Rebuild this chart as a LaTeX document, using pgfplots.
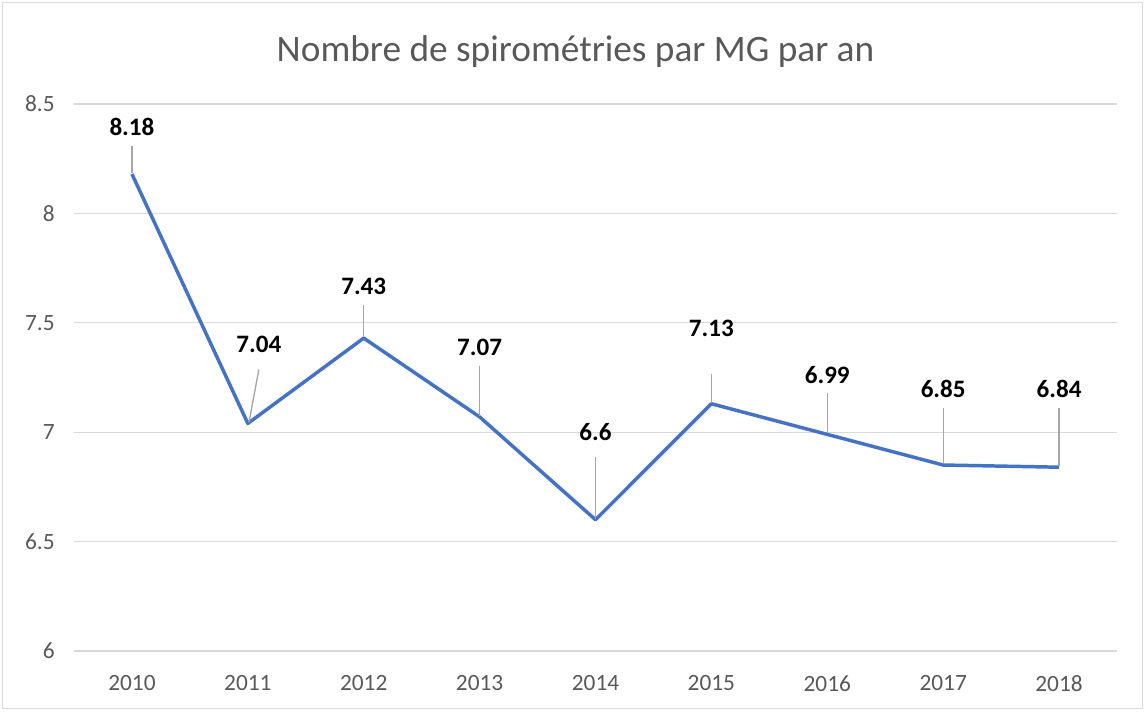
\documentclass[border=0pt]{standalone}
\usepackage{pgfplots}
\pgfplotsset{compat=1.18}
\usepackage{fontspec}
\setmainfont{Carlito}
\definecolor{lineblue}{HTML}{4472C4}
\definecolor{gridgray}{HTML}{D9D9D9}
\definecolor{txtgray}{HTML}{595959}
\definecolor{leadgray}{HTML}{A6A6A6}
\definecolor{framegray}{HTML}{D9D9D9}
\begin{document}
\begin{tikzpicture}[x=1pt,y=1pt]
\fill[white] (0,0) rectangle (858.75,533.25);
\draw[framegray, line width=1.2pt] (2,2) rectangle (856.75,531.25);
\begin{axis}[
  at={(55.5pt,45pt)}, anchor=south west,
  scale only axis,
  width=782.25pt, height=410.25pt,
  xmin=-0.5, xmax=8.5,
  ymin=6, ymax=8.5,
  axis line style={draw=none},
  xtick={0,...,8},
  xticklabels={2010,2011,2012,2013,2014,2015,2016,2017,2018},
  ytick={6,6.5,7,7.5,8,8.5},
  yticklabels={6,6.5,7,7.5,8,8.5},
  major tick length=0pt,
  ymajorgrids=true,
  grid style={gridgray, line width=0.8pt},
  tick label style={font=\fontsize{17.5}{20}\selectfont, text=txtgray},
  xticklabel style={yshift=-15pt},
  yticklabel style={xshift=-11pt},
  /pgf/number format/assume math mode=true,
  clip=false,
  title={\fontsize{28}{33}\selectfont Nombre de spirométries par MG par an},
  title style={text=txtgray, at={(0.5,1)}, anchor=center, yshift=33pt, xshift=-15pt},
]
\addplot[lineblue, line width=2.6pt, mark=none, line join=round] coordinates {
(0,8.18) (1,7.04) (2,7.43) (3,7.07) (4,6.6) (5,7.13) (6,6.99) (7,6.85) (8,6.84)
};
% leader lines
\draw[leadgray, line width=1pt] (axis cs:0,8.308) -- (axis cs:0,8.185);
\draw[leadgray, line width=1pt] (axis cs:1.095,7.287) -- (axis cs:1.01,7.045);
\draw[leadgray, line width=1pt] (axis cs:2,7.581) -- (axis cs:2,7.435);
\draw[leadgray, line width=1pt] (axis cs:3,7.303) -- (axis cs:3,7.075);
\draw[leadgray, line width=1pt] (axis cs:4,6.887) -- (axis cs:4,6.605);
\draw[leadgray, line width=1pt] (axis cs:5,7.266) -- (axis cs:5,7.135);
\draw[leadgray, line width=1pt] (axis cs:6,7.179) -- (axis cs:6,6.995);
\draw[leadgray, line width=1pt] (axis cs:7,7.11) -- (axis cs:7,6.855);
\draw[leadgray, line width=1pt] (axis cs:8,7.11) -- (axis cs:8,6.845);
% data labels
\tikzset{dl/.style={font=\fontsize{18.8}{22}\selectfont\bfseries, text=black, inner sep=0pt, anchor=center}}
\node[dl] at (axis cs:0,8.395) {8.18};
\node[dl] at (axis cs:1.095,7.401) {7.04};
\node[dl] at (axis cs:2,7.668) {7.43};
\node[dl] at (axis cs:3,7.389) {7.07};
\node[dl] at (axis cs:4,7.0) {6.6};
\node[dl] at (axis cs:5,7.476) {7.13};
\node[dl] at (axis cs:6,7.261) {6.99};
\node[dl] at (axis cs:7,7.200) {6.85};
\node[dl] at (axis cs:8,7.200) {6.84};
\end{axis}
\end{tikzpicture}
\end{document}
